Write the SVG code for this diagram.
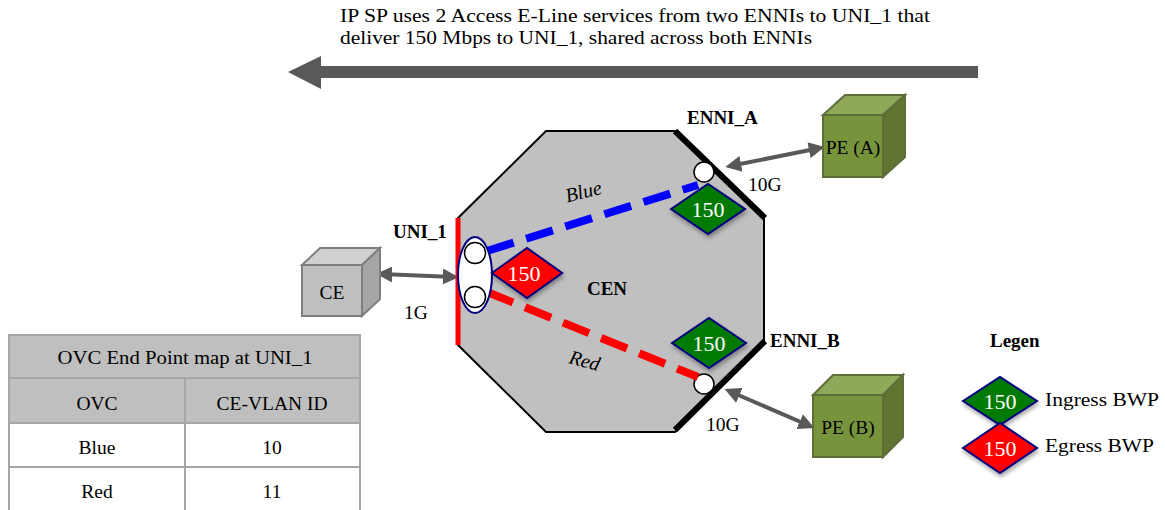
<svg xmlns="http://www.w3.org/2000/svg" width="1165" height="510" viewBox="0 0 1165 510">
<defs>
<style>
text{font-family:"Liberation Serif","DejaVu Serif",serif;fill:#000;}
.t{font-size:19.5px;}
.b{font-size:19px;font-weight:bold;}
.i{font-size:20px;font-style:italic;}
.dt{font-size:22px;fill:#fff;text-anchor:middle;}
.mid{text-anchor:middle;}
.dg{fill:#007a00;stroke:#000080;stroke-width:2;}
.dr{fill:#ff0000;stroke:#000080;stroke-width:2;}
.conn{stroke:#595959;stroke-width:4;fill:none;marker-start:url(#ah);marker-end:url(#ah);}
.cell{stroke:#a6a6a6;stroke-width:2;}
</style>
<marker id="ah" viewBox="0 0 10 10" refX="7" refY="5" markerWidth="4" markerHeight="4" orient="auto-start-reverse" markerUnits="strokeWidth">
<path d="M0,0 L10,5 L0,10 Z" fill="#595959"/>
</marker>
<path id="dia" d="M-37,0 L0,-25 L37,0 L0,25 Z"/>
<filter id="sh" x="-20%" y="-20%" width="140%" height="150%">
<feDropShadow dx="1" dy="3" stdDeviation="2" flood-color="#000" flood-opacity="0.35"/>
</filter>
</defs>

<g id="title">
<text class="t" x="340" y="22" textLength="590" lengthAdjust="spacingAndGlyphs">IP SP uses 2 Access E-Line services from two ENNIs to UNI_1 that</text>
<text class="t" x="340" y="44" textLength="472" lengthAdjust="spacingAndGlyphs">deliver 150 Mbps to UNI_1, shared across both ENNIs</text>
</g>

<g id="big-arrow">
<path d="M978,66 L321,66 L321,56 L288,72 L321,89 L321,78 L978,78 Z" fill="#595959"/>
</g>

<g id="cen">
<polygon points="546,131 675,131 764,217 764,342 675,432 546,432 458,345 458,218" fill="#c0c0c0" stroke="#000" stroke-width="2"/>
<text class="b mid" x="607" y="295">CEN</text>
</g>

<g id="enni-a">
<line x1="675" y1="131" x2="765" y2="218" stroke="#000" stroke-width="6"/>
<text class="b" x="687" y="124">ENNI_A</text>
<text class="t" x="748" y="191">10G</text>
<circle cx="704" cy="172" r="10" fill="#fff" stroke="#000" stroke-width="1.5"/>
</g>

<g id="enni-b">
<line x1="765" y1="341" x2="675" y2="430" stroke="#000" stroke-width="6"/>
<text class="b" x="770" y="347">ENNI_B</text>
<text class="t" x="706" y="431">10G</text>
<circle cx="704" cy="384" r="10" fill="#fff" stroke="#000" stroke-width="1.5"/>
</g>

<g id="connectors">
<line x1="487" y1="251" x2="698" y2="185" stroke="#0000ff" stroke-width="8" stroke-dasharray="28,13"/>
<line x1="487" y1="292" x2="698" y2="377" stroke="#ff0000" stroke-width="8" stroke-dasharray="28,13"/>
<line x1="381" y1="274" x2="454" y2="277" class="conn"/>
<line x1="730" y1="166" x2="820" y2="148" class="conn"/>
<line x1="729" y1="391" x2="810" y2="426" class="conn"/>
</g>

<g id="labels">
<text class="i mid" x="585" y="198" transform="rotate(-14 585 198)">Blue</text>
<text class="i mid" x="583" y="367" transform="rotate(15 583 367)">Red</text>
</g>

<g id="uni-1">
<line x1="458" y1="218" x2="458" y2="345" stroke="#ff0000" stroke-width="5"/>
<text class="b" x="393" y="238">UNI_1</text>
<text class="t" x="404" y="319">1G</text>
<ellipse cx="475" cy="275" rx="17" ry="38" fill="#fff" stroke="#000080" stroke-width="2"/>
<circle cx="475" cy="253" r="10.5" fill="#fff" stroke="#000" stroke-width="1.5"/>
<circle cx="475" cy="297" r="10.5" fill="#fff" stroke="#000" stroke-width="1.5"/>
</g>

<g id="bwp-uni">
<use href="#dia" class="dr" transform="translate(527,273) scale(0.95,1)" filter="url(#sh)"/>
<text class="dt" x="524" y="281">150</text>
</g>
<g id="bwp-enni-a">
<use href="#dia" class="dg" transform="translate(708,209)" filter="url(#sh)"/>
<text class="dt" x="708" y="217">150</text>
</g>
<g id="bwp-enni-b">
<use href="#dia" class="dg" transform="translate(709,343)" filter="url(#sh)"/>
<text class="dt" x="709" y="351">150</text>
</g>

<g id="ce">
<polygon points="302,265 320,248 380,248 362,265" fill="#d0d0d0" stroke="#7f7f7f" stroke-width="2"/>
<polygon points="362,265 380,248 380,299 362,316" fill="#a6a6a6" stroke="#7f7f7f" stroke-width="2"/>
<rect x="302" y="265" width="60" height="51" fill="#bfbfbf" stroke="#7f7f7f" stroke-width="2"/>
<text class="t mid" x="332" y="299">CE</text>
</g>

<g id="pe-a">
<polygon points="823,115 845,95 905,95 883,115" fill="#8fa85a" stroke="#5e6e3a" stroke-width="2"/>
<polygon points="883,115 905,95 905,157 883,177" fill="#5f7530" stroke="#5e6e3a" stroke-width="2"/>
<rect x="823" y="115" width="60" height="62" fill="#77933c" stroke="#5e6e3a" stroke-width="2"/>
<text class="t mid" x="853" y="154" font-size="20.5">PE (A)</text>
</g>

<g id="pe-b">
<polygon points="813,395 833,375 903,375 883,395" fill="#8fa85a" stroke="#5e6e3a" stroke-width="2"/>
<polygon points="883,395 903,375 903,437 883,457" fill="#5f7530" stroke="#5e6e3a" stroke-width="2"/>
<rect x="813" y="395" width="70" height="62" fill="#77933c" stroke="#5e6e3a" stroke-width="2"/>
<text class="t mid" x="848" y="434" font-size="20.5">PE (B)</text>
</g>

<g id="legend">
<text class="b" x="990" y="347" font-size="20">Legen</text>
<use href="#dia" class="dg" transform="translate(1000,401) scale(1,0.96)" filter="url(#sh)"/>
<text class="dt" x="1000" y="409">150</text>
<use href="#dia" class="dr" transform="translate(1000,448)" filter="url(#sh)"/>
<text class="dt" x="1000" y="456">150</text>
<text class="t" x="1045" y="406" textLength="114" lengthAdjust="spacingAndGlyphs">Ingress BWP</text>
<text class="t" x="1045" y="452" textLength="109" lengthAdjust="spacingAndGlyphs">Egress BWP</text>
</g>

<g id="table">
<rect x="9" y="335" width="351" height="43" fill="#bfbfbf" class="cell"/>
<rect x="9" y="378" width="176" height="45" fill="#bfbfbf" class="cell"/>
<rect x="185" y="378" width="175" height="45" fill="#bfbfbf" class="cell"/>
<rect x="9" y="423" width="176" height="44" fill="#fff" class="cell"/>
<rect x="185" y="423" width="175" height="44" fill="#fff" class="cell"/>
<rect x="9" y="467" width="176" height="50" fill="#fff" class="cell"/>
<rect x="185" y="467" width="175" height="50" fill="#fff" class="cell"/>
<text class="t mid" x="185" y="364" textLength="255" lengthAdjust="spacingAndGlyphs">OVC End Point map at UNI_1</text>
<text class="t mid" x="97" y="410">OVC</text>
<text class="t mid" x="272" y="410">CE-VLAN ID</text>
<text class="t mid" x="97" y="454">Blue</text>
<text class="t mid" x="272" y="454">10</text>
<text class="t mid" x="97" y="498">Red</text>
<text class="t mid" x="272" y="498">11</text>
</g>
</svg>
